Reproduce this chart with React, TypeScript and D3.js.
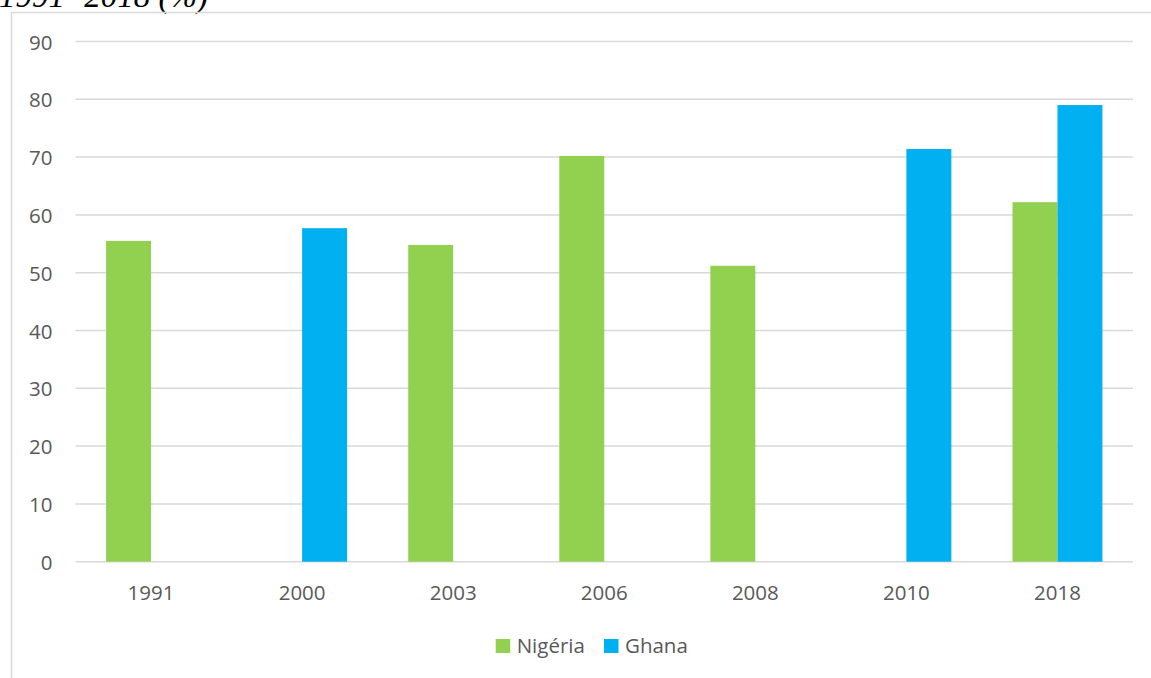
import React from "react";
import * as d3 from "d3";

const years = ["1991", "2000", "2003", "2006", "2008", "2010", "2018"];
const series = ["Nigéria", "Ghana"];
const nigeria: (number | null)[] = [55.5, null, 54.8, 70.2, 51.2, null, 62.2];
const ghana: (number | null)[] = [null, 57.7, null, null, null, 71.4, 79.0];
const yTicks = [0, 10, 20, 30, 40, 50, 60, 70, 80, 90];
const colors = ["#92D050", "#00B0F0"];
const title = "1991- 2018 (%)";

const W = 1151;
const H = 678;
const left = 75.5;
const right = 1133;
const top = 41.5;
const bottom = 561.7;
const font = "'Open Sans', 'Noto Sans', sans-serif";

export default function App() {
  const x = d3.scaleBand<string>().domain(years).range([left, right]).padding(0);
  const inner = d3
    .scaleBand<string>()
    .domain(series)
    .range([0, x.bandwidth()])
    .paddingInner(0)
    .paddingOuter(0.68);
  const y = d3.scaleLinear().domain([0, 90]).range([bottom, top]);
  const values = [nigeria, ghana];

  return (
    <svg
      width={W}
      height={H}
      style={{ position: "absolute", left: 0, top: 0, background: "#fff" }}
    >
      <text
        x={-1}
        y={7}
        fontFamily="'Liberation Serif', 'Times New Roman', serif"
        fontStyle="italic"
        fontSize={33}
        fill="#000"
      >
        {title}
      </text>
      <rect x={11.5} y={12.5} width={W} height={H} fill="none" stroke="#d9d9d9" strokeWidth={1.5} />
      {yTicks.map((t) => (
        <g key={t}>
          <line x1={left} x2={right} y1={y(t)} y2={y(t)} stroke="#d9d9d9" strokeWidth={1.5} />
          <text
            x={52.5}
            y={y(t)}
            textAnchor="end"
            dominantBaseline="central"
            fontFamily={font}
            fontSize={20.5}
            fill="#595959"
          >
            {t}
          </text>
        </g>
      ))}
      {years.map((yr, i) => (
        <g key={yr}>
          {series.map((s, j) => {
            const v = values[j][i];
            if (v == null) return null;
            return (
              <rect
                key={s}
                x={(x(yr) as number) + (inner(s) as number)}
                y={y(v)}
                width={inner.bandwidth()}
                height={y(0) - y(v)}
                fill={colors[j]}
              />
            );
          })}
          <text
            x={(x(yr) as number) + x.bandwidth() / 2}
            y={600}
            textAnchor="middle"
            fontFamily={font}
            fontSize={20.5}
            fill="#595959"
          >
            {yr}
          </text>
        </g>
      ))}
      {series.map((s, j) => {
        const lx = [495.7, 604][j];
        return (
          <g key={s}>
            <rect x={lx} y={639} width={14.5} height={14} fill={colors[j]} />
            <text x={lx + 21} y={653} fontFamily={font} fontSize={20.5} fill="#595959">
              {s}
            </text>
          </g>
        );
      })}
    </svg>
  );
}
